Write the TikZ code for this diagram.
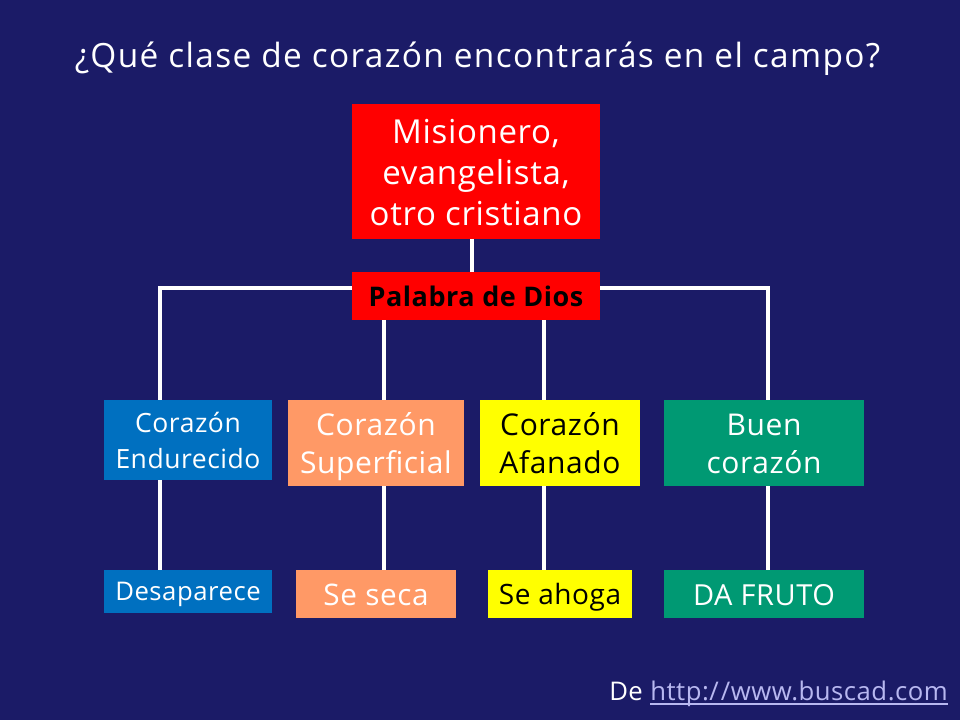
\documentclass[tikz,border=0pt]{standalone}
\usepackage{fontspec}
\setmainfont{Open Sans}
\newfontfamily\ttlf[LetterSpace=4]{Open Sans}
\newfontfamily\spcf[LetterSpace=2]{Open Sans}
\definecolor{bgc}{RGB}{27,27,103}
\definecolor{redc}{RGB}{255,0,0}
\definecolor{bluec}{RGB}{0,112,192}
\definecolor{orc}{RGB}{255,153,102}
\definecolor{yelc}{RGB}{255,255,0}
\definecolor{grc}{RGB}{0,153,115}
\definecolor{linkc}{RGB}{184,184,240}
\tikzset{
 x=1pt,y=-1pt,
 box/.style={fill=#1,inner sep=0pt,align=center},
 wire/.style={draw=white,line width=4pt},
 lab/.style={text=white,inner sep=0pt,align=center},
 % places the baseline of the last text line #1 px below the node centre
 bl/.style={text height=#1*2pt,text depth=0pt},
}
\begin{document}
\begin{tikzpicture}
\useasboundingbox (0,0) rectangle (960,720);
\fill[bgc] (0,0) rectangle (960,720);
% boxes
\node[box=redc,minimum width=248pt,minimum height=135pt,bl=53.5,font=\spcf\fontsize{33}{41}\selectfont,text=white] (m) at (476,171.5) {Misionero,\\evangelista,\\otro cristiano};
\node[box=redc,minimum width=248pt,minimum height=48pt,bl=10,font=\spcf\fontsize{27}{28}\selectfont\bfseries,text=black] (p) at (476,296) {Palabra de Dios};
\node[box=bluec,minimum width=168pt,minimum height=80pt,bl=28.7,font=\spcf\fontsize{26.5}{36}\selectfont,text=white] (c1) at (188,440) {Corazón\\Endurecido};
\node[box=orc,minimum width=176pt,minimum height=86pt,bl=30.5,font=\spcf\fontsize{30}{38}\selectfont,text=white] (c2) at (376,443) {Corazón\\Superficial};
\node[box=yelc,minimum width=160pt,minimum height=86pt,bl=30.5,font=\spcf\fontsize{30}{38}\selectfont,text=black] (c3) at (560,443) {Corazón\\Afanado};
\node[box=grc,minimum width=200pt,minimum height=86pt,bl=30.5,font=\spcf\fontsize{30}{38}\selectfont,text=white] (c4) at (764,443) {Buen\\corazón};
\node[box=bluec,minimum width=168pt,minimum height=43pt,bl=9.2,font=\spcf\fontsize{25.7}{28}\selectfont,text=white] (d1) at (188,591.5) {Desaparece};
\node[box=orc,minimum width=160pt,minimum height=48pt,bl=11.7,font=\spcf\fontsize{29.7}{32}\selectfont,text=white] (d2) at (376,594) {Se seca};
\node[box=yelc,minimum width=144pt,minimum height=48pt,bl=10,font=\spcf\fontsize{28}{30}\selectfont,text=black] (d3) at (560,594) {Se ahoga};
\node[box=grc,minimum width=200pt,minimum height=48pt,bl=11,font=\spcf\fontsize{29}{32}\selectfont,text=white] (d4) at (764,594) {DA FRUTO};
% wires
\coordinate (t0) at (472,288);
\coordinate (tl) at (160,288);
\coordinate (tr) at (768,288);
\coordinate (t1) at (384,288);
\coordinate (t2) at (544,288);
\draw[wire] (t0 |- m.south) -- (t0 |- p.north);
\draw[wire] (tl |- c1.north) -- (tl) -- (tl -| p.west);
\draw[wire] (tr |- c4.north) -- (tr) -- (tr -| p.east);
\draw[wire] (tl |- c1.south) -- (tl |- d1.north);
\draw[wire] (t1 |- p.south) -- (t1 |- c2.north);
\draw[wire] (t1 |- c2.south) -- (t1 |- d2.north);
\draw[wire] (t2 |- p.south) -- (t2 |- c3.north);
\draw[wire] (t2 |- c3.south) -- (t2 |- d3.north);
\draw[wire] (tr |- c4.south) -- (tr |- d4.north);
% text
\node[lab,bl=10.3,font=\ttlf\fontsize{33.4}{36}\selectfont] (title) at (477.5,57) {¿Qué clase de corazón encontrarás en el campo?};
\node[lab,bl=8.7,anchor=east,font=\spcf\fontsize{25.7}{28}\selectfont,text=linkc] (lnk) at (948,692) {http:/\kern2pt/www.buscad.com};
\node[lab,bl=8.7,anchor=east,font=\spcf\fontsize{25.7}{28}\selectfont] (de) at ([xshift=-7pt]lnk.west) {De};
\draw[draw=linkc,line width=2pt] (lnk.west |- 0,704) -- (lnk.east |- 0,704);
\end{tikzpicture}
\end{document}
